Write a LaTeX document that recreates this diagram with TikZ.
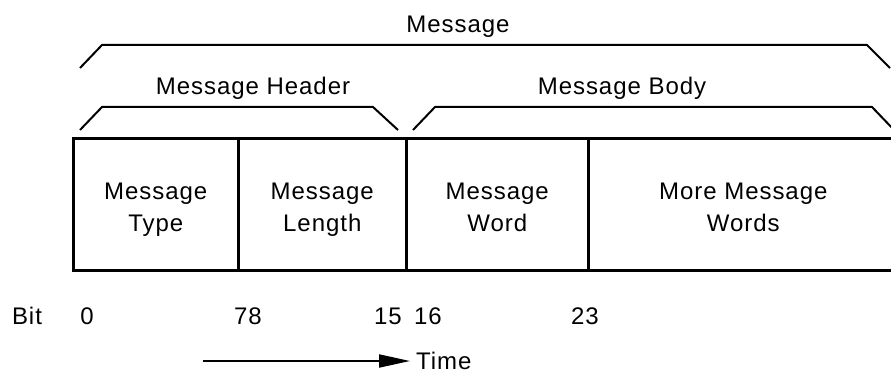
\documentclass[tikz,border=0pt]{standalone}
\usepackage{fontspec}
\setmainfont{Liberation Sans}[LetterSpace=4]
\usetikzlibrary{arrows.meta}

\begin{document}
\begin{tikzpicture}[x=1pt, y=-1pt,
                    every node/.style={font=\fontsize{24}{32}\selectfont},
                    field/.style={draw, line width=2.6pt, anchor=north west,
                                  minimum height=132pt, align=center,
                                  text height=56pt, text depth=2pt},
                    bracket/.style={line width=2pt},
                    timeline/.style={line width=2pt, -{Triangle[length=31pt,width=13pt]}}]
  \useasboundingbox (0,0) rectangle (891,374);
  \draw[bracket] (80,68) -- (102,45) -- (867,45) -- (890,68);
  \draw[bracket] (80,130) -- (102,107) -- (373,107) -- (398,130);
  \draw[bracket] (413,130) -- (435,107) -- (872,107) -- (895,131);
  \node (msg) at (458,27) {Message};
  \node (header) at (253,88) {Message Header};
  \node (body) at (622,88) {Message Body};
  \node[field, minimum width=165pt] (type) at (72,137) {Message\\Type};
  \node[field, minimum width=168pt] (length) at (237,137) {Message\\Length};
  \node[field, minimum width=182pt] (word) at (405,137) {Message\\Word};
  \node[field, minimum width=310pt] (more) at (587,137) {More Message\\Words};
  \node (bit) at (27,316) {Bit};
  \node (b0) at (87,316) {0};
  \node (b78) at (248,316) {78};
  \node (b15) at (388,316) {15};
  \node (b16) at (428,316) {16};
  \node (b23) at (585,316) {23};
  \coordinate (tstart) at (203,361);
  \node[anchor=west, inner xsep=6pt] (time) at (410,361) {Time};
  \draw[timeline] (tstart) -- (time.west);
\end{tikzpicture}
\end{document}
